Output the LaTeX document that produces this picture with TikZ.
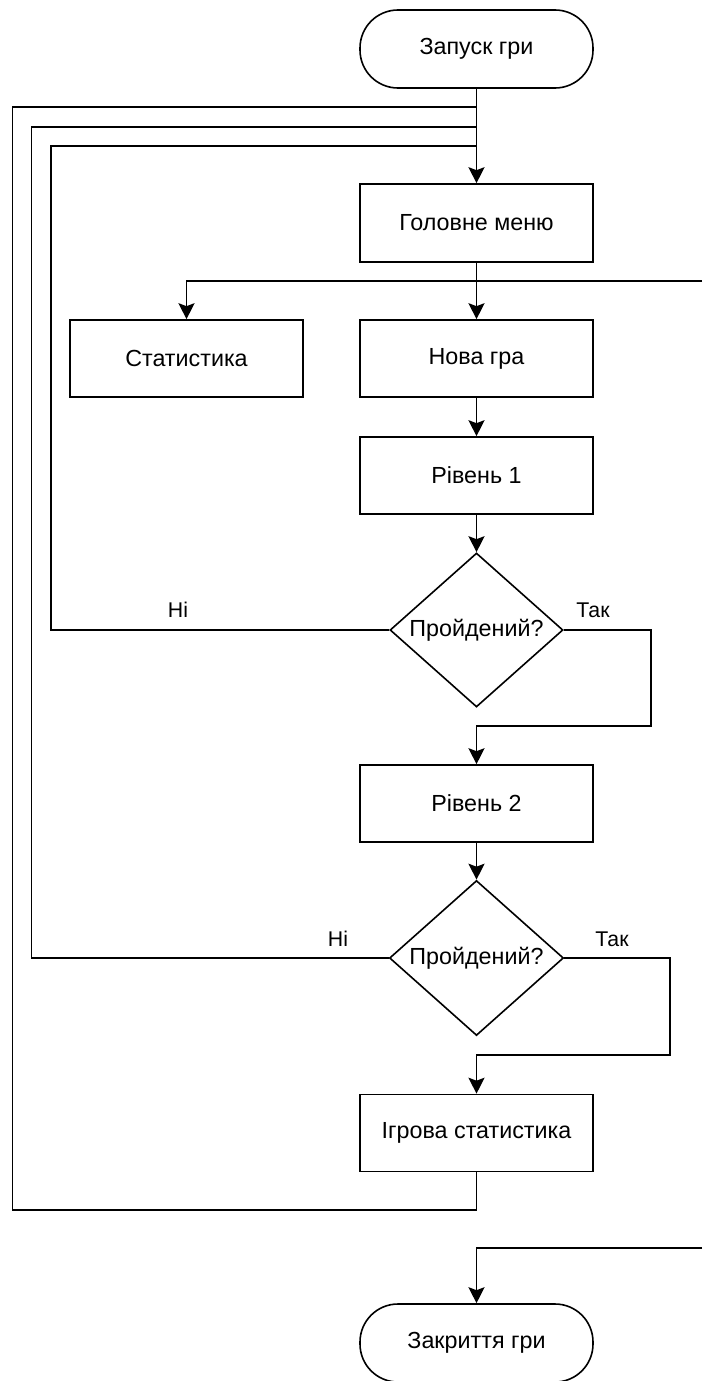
\documentclass[tikz,border=0pt]{standalone}
\usepackage{fontspec}
\setmainfont{Liberation Sans}
\usetikzlibrary{shapes.geometric,arrows.meta}
\begin{document}
\begin{tikzpicture}[x=1pt,y=-1pt,
  line width=1.6pt,
  every node/.style={font=\fontsize{23.3}{28}\selectfont},
  box/.style={draw, rectangle, minimum width=233pt, minimum height=77pt, inner sep=0pt},
  term/.style={box, rounded corners=38pt, minimum height=78pt},
  decision/.style={draw, diamond, minimum width=173pt, minimum height=154pt, inner sep=0pt},
  lbl/.style={font=\fontsize{21.3}{25}\selectfont, inner sep=0pt},
  flow/.style={-{Stealth[length=16pt,width=16pt,inset=3pt]}}
]
\useasboundingbox (0,0) rectangle (702,1381);

\node[term] (start) at (476.5,49) {Запуск гри};
\node[box, minimum height=78pt] (menu) at (476.5,223) {Головне меню};
\node[box] (stat) at (186.5,358.5) {Статистика};
\node[box] (nova) at (476.5,358.5) {Нова гра};
\node[box] (r1) at (476.5,475.5) {Рівень 1};
\node[decision] (d1) at (476.5,630) {\makebox[0pt]{Пройдений?}};
\node[box] (r2) at (476.5,803.5) {Рівень 2};
\node[decision, minimum width=174pt, minimum height=155pt] (d2) at (476.5,958) {\makebox[0pt]{Пройдений?}};
\node[box] (ig) at (476.5,1133) {Ігрова статистика};
\node[term] (end) at (476.5,1343) {Закриття гри};

\node[lbl] (no1) at (178,610) {Ні};
\node[lbl] (yes1) at (593,610) {Так};
\node[lbl] (no2) at (338,939) {Ні};
\node[lbl] (yes2) at (612,939) {Так};

\coordinate (jA) at (476.5,107);
\coordinate (jB) at (476.5,127);
\coordinate (jC) at (476.5,146);
\coordinate (offTop) at (702,281);
\coordinate (offBot) at (702,1248);

\draw[flow] (start) -- (menu);
\draw (ig.south) |- (12.5,1210) |- (jA);
\draw (d2.west) -| (31.5,127) -- (jB);
\draw (d1.west) -| (51,146) -- (jC);

\draw[flow] (menu) -- (nova);
\draw[flow] (offTop) -| (stat.north);
\draw[flow] (nova) -- (r1);
\draw[flow] (r1) -- (d1);
\draw[flow] (d1.east) -| (651,726) -| (r2.north);
\draw[flow] (r2) -- (d2);
\draw[flow] (d2.east) -| (670,1055) -| (ig.north);
\draw[flow] (offBot) -| (end.north);
\end{tikzpicture}
\end{document}
